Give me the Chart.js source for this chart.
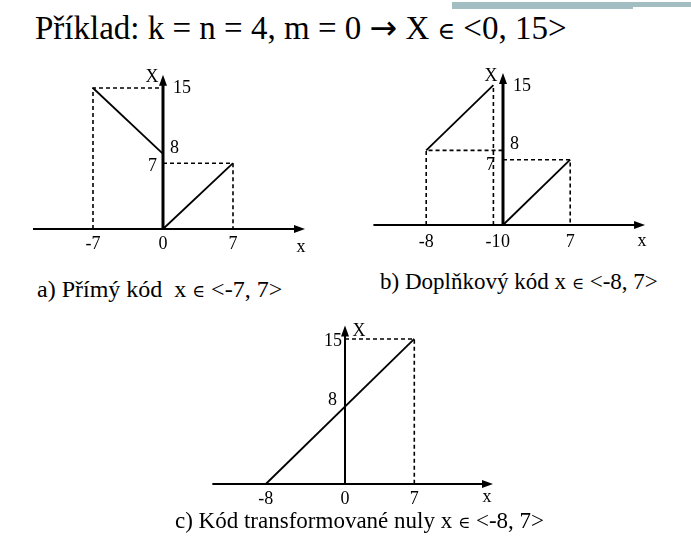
<!DOCTYPE html>
<html>
<head>
<meta charset="utf-8">
<script src="https://cdn.jsdelivr.net/npm/chart.js@4"></script>
<style>
  body { margin: 0; background: #fff; width: 691px; height: 556px; position: relative; overflow: hidden; }
  .txt { position: absolute; font-family: "Liberation Serif", "Times New Roman", "DejaVu Serif", serif; color: #000; line-height: 1; white-space: pre; }
  .el { font-family: "DejaVu Serif", serif; font-size: 0.72em; }
  .arr { font-family: "DejaVu Sans", sans-serif; }
  #title { left: 35px; top: 11px; font-size: 33px; }
  #cap-a { left: 37px; top: 277px; font-size: 24px; }
  #cap-b { left: 380px; top: 270px; font-size: 23px; }
  #cap-c { left: 175px; top: 509px; font-size: 23px; }
  .bar { position: absolute; background: #a3bec3; }
  canvas { position: absolute; }
</style>
</head>
<body>
<div class="bar" style="left:452px; top:2px; width:181px; height:7px;"></div>
<div class="bar" style="left:633px; top:2px; width:58px; height:5px;"></div>
<div id="title" class="txt">Příklad: k = n = 4, m = 0 <span class="arr">→</span> X <span class="el">∈</span> &lt;0, 15&gt;</div>

<canvas id="chart-a" width="300" height="205" style="left:20px; top:55px;"></canvas>
<canvas id="chart-b" width="331" height="205" style="left:360px; top:55px;"></canvas>
<canvas id="chart-c" width="320" height="200" style="left:200px; top:310px;"></canvas>

<div id="cap-a" class="txt">a) Přímý kód  x <span class="el">∈</span> &lt;-7, 7&gt;</div>
<div id="cap-b" class="txt">b) Doplňkový kód x <span class="el">∈</span> &lt;-8, 7&gt;</div>
<div id="cap-c" class="txt">c) Kód transformované nuly x <span class="el">∈</span> &lt;-8, 7&gt;</div>

<script>
// ---------- a) Přímý kód ---------- //
const aPositive = [[0, 0], [7, 7]];
const aNegative = [[-7, 15], [0, 8]];
const aGuides = [
  [[-7, 0], [-7, 15], [0, 15]],
  [[0, 7], [7, 7], [7, 0]]
];
const aXTicks = ["-7", "0", "7"];
const aXTickValues = [-7, 0, 7];
const aYTicks = ["15", "8", "7"];
const aYTickValues = [15, 8, 7];

// ---------- b) Doplňkový kód ---------- //
const bPositive = [[0, 0], [7, 7]];
const bNegative = [[-8, 8], [-1, 15]];
const bGuides = [
  [[-8, 0], [-8, 8], [0, 8]],
  [[-1, 0], [-1, 15]],
  [[0, 7], [7, 7], [7, 0]]
];
const bXTicks = ["-8", "-1", "0", "7"];
const bXTickValues = [-8, -1, 0, 7];
const bYTicks = ["15", "8", "7"];
const bYTickValues = [15, 8, 7];

// ---------- c) Kód transformované nuly ---------- //
const cLine = [[-8, 0], [7, 15]];
const cGuides = [
  [[0, 15], [7, 15], [7, 0]]
];
const cXTicks = ["-8", "0", "7"];
const cXTickValues = [-8, 0, 7];
const cYTicks = ["15", "8"];
const cYTickValues = [15, 8];


const toPoints = arr => arr.map(p => ({ x: p[0], y: p[1] }));

function solidSet(points) {
  return { data: toPoints(points), showLine: true, borderColor: "#000", borderWidth: 1.8, pointRadius: 0, fill: false };
}
function dashedSet(points) {
  return { data: toPoints(points), showLine: true, borderColor: "#000", borderWidth: 1.6, borderDash: [4, 3], pointRadius: 0, fill: false };
}

// Axes with arrows + labels, placed through the chart's own scales
const axesPlugin = {
  id: "axes",
  afterDatasetsDraw(chart, args, o) {
    const ctx = chart.ctx;
    const xs = chart.scales.x, ys = chart.scales.y;
    const x0 = xs.getPixelForValue(0), y0 = ys.getPixelForValue(0);
    const xa = xs.getPixelForValue(o.xFrom), xb = xs.getPixelForValue(o.xTo);
    const yTop = ys.getPixelForValue(o.yTo);
    ctx.save();
    ctx.strokeStyle = "#000";
    ctx.fillStyle = "#000";
    // x axis
    ctx.lineWidth = 2;
    ctx.beginPath(); ctx.moveTo(xa, y0); ctx.lineTo(xb - 6, y0); ctx.stroke();
    ctx.beginPath(); ctx.moveTo(xb, y0); ctx.lineTo(xb - 11, y0 - 4); ctx.lineTo(xb - 11, y0 + 4); ctx.closePath(); ctx.fill();
    // y axis
    ctx.lineWidth = o.yWidth;
    ctx.beginPath(); ctx.moveTo(x0, y0); ctx.lineTo(x0, yTop + 6); ctx.stroke();
    ctx.beginPath(); ctx.moveTo(x0, yTop); ctx.lineTo(x0 - 4, yTop + 11); ctx.lineTo(x0 + 4, yTop + 11); ctx.closePath(); ctx.fill();

    ctx.font = "18px 'Liberation Serif', serif";
    ctx.textBaseline = "middle";
    // x tick labels
    o.xTicks.forEach((t, i) => {
      const al = o.xAlign[i];
      ctx.textAlign = al[0];
      ctx.fillText(t, xs.getPixelForValue(o.xValues[i]) + al[1], y0 + o.xDy);
    });
    // y tick labels
    o.yTicks.forEach((t, i) => {
      const al = o.yAlign[i];
      ctx.textAlign = al[0];
      ctx.fillText(t, x0 + al[1], ys.getPixelForValue(o.yValues[i]) + al[2]);
    });
    // axis names
    ctx.textAlign = "center";
    ctx.fillText("X", x0 + o.bigX[0], yTop + o.bigX[1]);
    ctx.fillText("x", xb + o.smallX[0], y0 + o.smallX[1]);
    ctx.restore();
  }
};

// pixel geometry of each panel: canvas size, origin and units
function view(w, h, ox, oy, sx, sy) {
  return { xMin: -ox / sx, xMax: (w - ox) / sx, yMin: -(h - oy) / sy, yMax: oy / sy };
}

function makeChart(id, datasets, v, axes) {
  new Chart(document.getElementById(id), {
    type: "scatter",
    data: { datasets: datasets },
    options: {
      responsive: false,
      animation: false,
      layout: { padding: 0 },
      scales: {
        x: { type: "linear", display: false, min: v.xMin, max: v.xMax },
        y: { type: "linear", display: false, min: v.yMin, max: v.yMax }
      },
      plugins: { legend: { display: false }, tooltip: { enabled: false }, axes: axes }
    },
    plugins: [axesPlugin]
  });
}

// ---------- a ---------- //
makeChart("chart-a",
  [solidSet(aPositive), solidSet(aNegative), ...aGuides.map(dashedSet)],
  view(300, 205, 143, 174, 10, 9.4),
  {
    xFrom: -13, xTo: 14.2, yTo: 16.4, yWidth: 3,
    xTicks: aXTicks, xValues: aXTickValues, xDy: 15,
    xAlign: [["center", 0], ["center", 0], ["center", 0]],
    yTicks: aYTicks, yValues: aYTickValues,
    yAlign: [["left", 10, 0], ["left", 7, -6], ["right", -6, 3]],
    bigX: [-11, 2], smallX: [-4, 18]
  });

// ---------- b ---------- //
makeChart("chart-b",
  [solidSet(bPositive), solidSet(bNegative), ...bGuides.map(dashedSet)],
  view(331, 205, 143, 170, 9.6, 9.33),
  {
    xFrom: -13.5, xTo: 14.8, yTo: 16.3, yWidth: 3,
    xTicks: bXTicks, xValues: bXTickValues, xDy: 17,
    xAlign: [["center", 0], ["right", 7], ["left", -2], ["center", 0]],
    yTicks: bYTicks, yValues: bYTickValues,
    yAlign: [["left", 10, 1], ["left", 7, -6], ["right", -8, 6]],
    bigX: [-12, 3], smallX: [-3, 16]
  });

// ---------- c ---------- //
makeChart("chart-c",
  [solidSet(cLine), ...cGuides.map(dashedSet)],
  view(320, 200, 145, 174, 9.9, 9.67),
  {
    xFrom: -13.4, xTo: 14.95, yTo: 16.4, yWidth: 2,
    xTicks: cXTicks, xValues: cXTickValues, xDy: 15,
    xAlign: [["center", 0], ["center", 0], ["center", 0]],
    yTicks: cYTicks, yValues: cYTickValues,
    yAlign: [["right", -3, 2], ["right", -8, -6]],
    bigX: [14, 6], smallX: [-6, 13]
  });
</script>
</body>
</html>
